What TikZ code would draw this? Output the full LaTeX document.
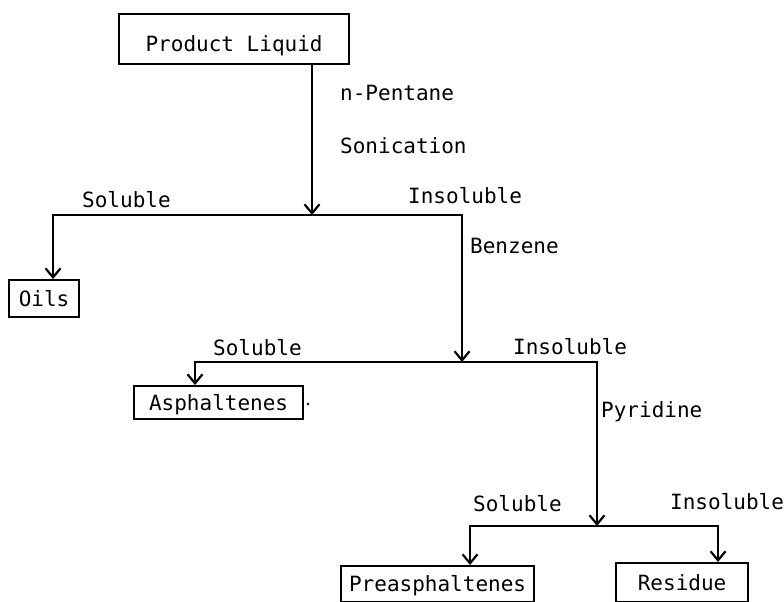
\documentclass[tikz,border=0pt]{standalone}
\usepackage{fontspec}
\newfontfamily\monof{DejaVu Sans Mono}
\usetikzlibrary{arrows.meta}
\begin{document}
\begin{tikzpicture}[x=1pt,y=-1pt,
  every node/.style={font=\monof\fontsize{21}{25}\selectfont},
  lbl/.style={anchor=base west, inner sep=0pt},
  box/.style={draw, line width=2.2pt, anchor=north west, inner sep=0pt, text height=15pt, text depth=0pt},
  conn/.style={line width=2.2pt},
  arr/.style={conn, -{Straight Barb[length=9pt,width=15pt]}}]
\clip (0,0) rectangle (784,602);
\fill[white] (0,0) rectangle (784,602);
% boxes
\node[box, minimum width=230pt, minimum height=50pt, text height=24pt] (pl) at (118,13) {Product Liquid};
\node[box, minimum width=70pt, minimum height=37pt] (oils) at (8,279) {Oils};
\node[box, minimum width=169pt, minimum height=33pt] (asph) at (133,385) {Asphaltenes};
\node[box, minimum width=193pt, minimum height=36pt] (pre) at (340,565) {Preasphaltenes};
\node[box, minimum width=132pt, minimum height=39pt] (res) at (615,562) {Residue};
% junctions
\coordinate (A) at (312,215);
\coordinate (L1) at (53,215);
\coordinate (R1) at (462,215);
\coordinate (B) at (462,362);
\coordinate (L2) at (195,362);
\coordinate (R2) at (597,362);
\coordinate (C) at (597,526);
\coordinate (L3) at (470,526);
\coordinate (R3) at (718,526);
% connectors
\draw[arr] (pl.south -| A) -- (A);
\draw[arr] (A) -- (L1) -- (oils.north -| L1);
\draw[arr] (A) -- (R1) -- (B);
\draw[arr] (B) -- (L2) -- (asph.north -| L2);
\draw[arr] (B) -- (R2) -- (C);
\draw[arr] (C) -- (L3) -- (pre.north -| L3);
\draw[arr] (C) -- (R3) -- (res.north -| R3);
% labels
\node[lbl] (t1) at (340,100) {n-Pentane};
\node[lbl] (t2) at (340,153) {Sonication};
\node[lbl] (t3) at (82,207) {Soluble};
\node[lbl] (t4) at (408,203) {Insoluble};
\node[lbl] (t5) at (470,253) {Benzene};
\node[lbl] (t6) at (213,355) {Soluble};
\node[lbl] (t7) at (513,354) {Insoluble};
\node[lbl] (t8) at (601,417) {Pyridine};
\node[lbl] (t9) at (473,511) {Soluble};
\node[lbl] (t10) at (670,509) {Insoluble};
\fill (308,404) circle (1.3pt);
\end{tikzpicture}
\end{document}
